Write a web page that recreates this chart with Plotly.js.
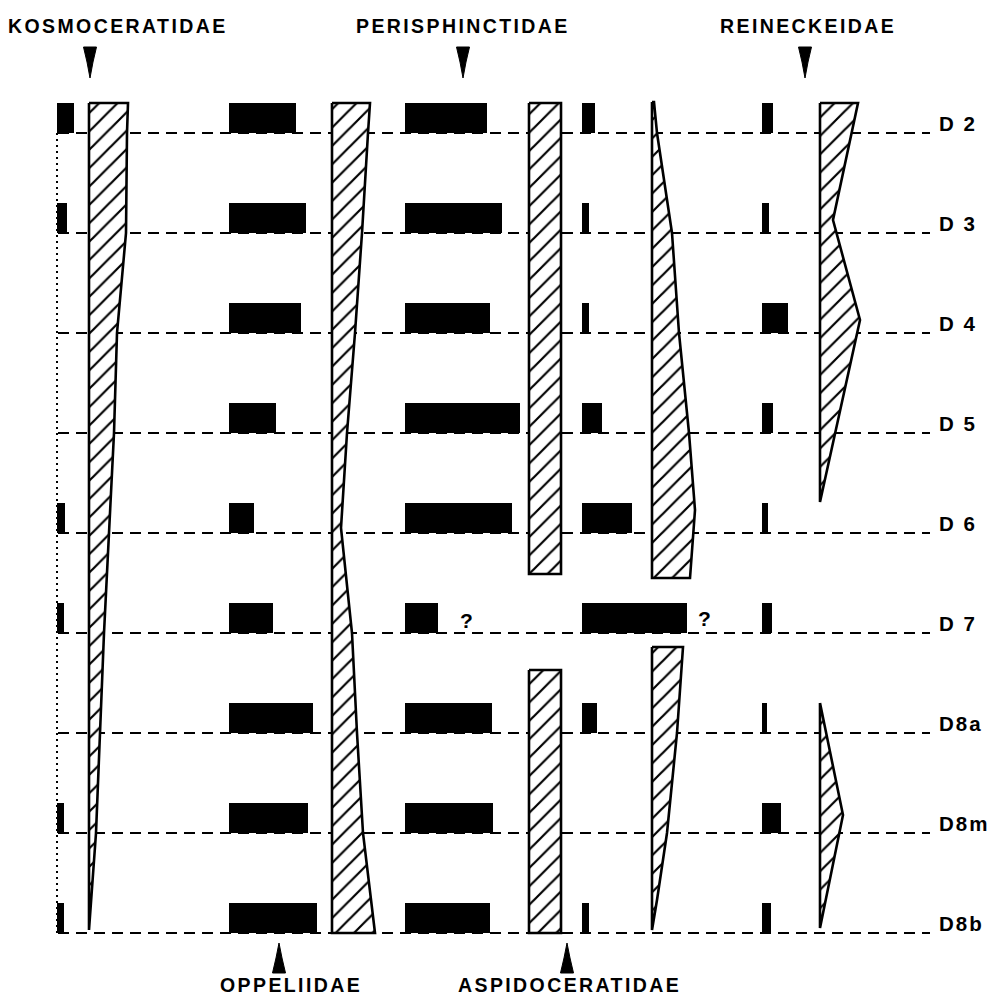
<!DOCTYPE html>
<html><head><meta charset="utf-8">
<script src="https://cdn.plot.ly/plotly-3.0.1.min.js"></script>
<style>html,body{margin:0;padding:0;background:#fff}#chart{width:1004px;height:1003px}</style>
</head><body><div id="chart"></div>
<script>
// ---- data ----
const levels = ['D 2','D 3','D 4','D 5','D 6','D 7','D8a','D8m','D8b'];
const topFamilies = ['KOSMOCERATIDAE','PERISPHINCTIDAE','REINECKEIDAE'];
const bottomFamilies = ['OPPELIIDAE','ASPIDOCERATIDAE'];

// black bars (abundance at each level; 0 = absent)
const kosmoBars  = [17, 10, 0, 0, 8, 7, 0, 7, 7];
const oppelBars  = [67, 77, 72, 47, 25, 44, 84, 79, 88];
const perisBars  = [82, 97, 85, 115, 107, 33, 87, 88, 85];
const aspidoBars = [13, 7, 7, 20, 50, 105, 15, 0, 7];
const reineBars  = [11, 7, 26, 11, 6, 10, 5, 19, 9];
// uncertain occurrences ("?")
const perisQuery  = [5];
const aspidoQuery = [5];

// hatched profiles: depth (in level units) and width
const kosmoDepth  = [-0.3, 0, 1, 2, 3, 4, 5, 6, 7, 7.97];
const kosmoWidth  = [39, 38, 37, 28, 25, 20, 15, 11, 7, 0];
const oppelDepth  = [-0.3, 0, 1, 2, 3, 3.95, 5, 6, 7, 8];
const oppelWidth  = [38, 36, 30, 23, 15, 9, 20, 25, 31, 43];
const perisDepthA = [-0.3, 4.41];
const perisWidthA = [32, 32];
const perisDepthB = [5.37, 8];
const perisWidthB = [32, 32];
const aspidoDepthA = [-0.31, 0, 1, 2, 3, 3.77, 4.45];
const aspidoWidthA = [2, 5, 20, 27, 37, 43, 38];
const aspidoDepthB = [5.14, 6, 7, 7.67, 7.97];
const aspidoWidthB = [31, 25, 15, 5, 0];
const reineDepthA = [-0.3, 0.87, 1.87, 3.69];
const reineWidthA = [38, 13, 40, 0];
const reineDepthB = [5.7, 6.82, 7.95];
const reineWidthB = [0, 23, 0];

// ---- layout constants ----
const barStart   = {kosmo: 57, oppel: 229, peris: 405, aspido: 582, reine: 762};
const hatchStart = {kosmo: 89, oppel: 332, peris: 529, aspido: 652, reine: 820};
const lineFrom = 58, lineTo = 930;
const pxY = p => (p - 133) / 100;   // page pixel row -> level units

const traces = [];
// dashed level lines
const lx = [], ly = [];
levels.forEach((l, i) => { lx.push(lineFrom, lineTo, null); ly.push(i, i, null); });
traces.push({type:'scatter', mode:'lines', x:lx, y:ly, hoverinfo:'skip',
  line:{color:'#000', width:2, dash:'11px,7px'}});
// dotted vertical line of first column
traces.push({type:'scatter', mode:'lines', x:[barStart.kosmo, barStart.kosmo], y:[0, levels.length-1],
  hoverinfo:'skip', line:{color:'#000', width:2, dash:'2px,4px'}});

// hatched profiles
function hatch(base, depth, width) {
  const x = [base], y = [depth[0]];
  depth.forEach((d, i) => { x.push(base + width[i]); y.push(d); });
  x.push(base, base); y.push(depth[depth.length-1], depth[0]);
  traces.push({type:'scatter', mode:'lines', x, y, fill:'toself', fillcolor:'#fff',
    fillpattern:{shape:'/', fgcolor:'#000', bgcolor:'#fff', size:13, solidity:0.17},
    line:{color:'#000', width:2.6}, hoverinfo:'skip'});
}
hatch(hatchStart.kosmo, kosmoDepth, kosmoWidth);
hatch(hatchStart.oppel, oppelDepth, oppelWidth);
hatch(hatchStart.peris, perisDepthA, perisWidthA);
hatch(hatchStart.peris, perisDepthB, perisWidthB);
hatch(hatchStart.aspido, aspidoDepthA, aspidoWidthA);
hatch(hatchStart.aspido, aspidoDepthB, aspidoWidthB);
hatch(hatchStart.reine, reineDepthA, reineWidthA);
hatch(hatchStart.reine, reineDepthB, reineWidthB);

// black bars
function bars(base, vals) {
  traces.push({type:'bar', orientation:'h', base:base, x:vals,
    y: vals.map((v, i) => i - 0.15), width:0.30,
    marker:{color:'#000', line:{width:0}}, hoverinfo:'skip'});
}
bars(barStart.kosmo, kosmoBars);
bars(barStart.oppel, oppelBars);
bars(barStart.peris, perisBars);
bars(barStart.aspido, aspidoBars);
bars(barStart.reine, reineBars);

const font = {family:'Liberation Sans, Arial, sans-serif', color:'#000'};
const spaced = (t, ls) => `<span style="letter-spacing:${ls}px">${t}</span>`;
const annotations = [];
// level labels
levels.forEach((l, i) => annotations.push({x:937, y:i, xref:'x', yref:'y', xanchor:'left', yanchor:'bottom',
  yshift:-4, showarrow:false, text:'<b>'+spaced(l, 2)+'</b>', font:Object.assign({size:20.5}, font)}));
// question marks
perisQuery.forEach(i => annotations.push({x:barStart.peris + perisBars[i] + 28, y:i - 0.13, xref:'x', yref:'y',
  showarrow:false, text:'<b>?</b>', font:Object.assign({size:21}, font)}));
aspidoQuery.forEach(i => annotations.push({x:barStart.aspido + aspidoBars[i] + 17, y:i - 0.15, xref:'x', yref:'y',
  showarrow:false, text:'<b>?</b>', font:Object.assign({size:21}, font)}));

// family headings and pointers
const topX = [118, 463, 808], topArrow = [90, 463, 805];
const botX = [291, 569], botArrow = [279, 567];
const shapes = [];
topFamilies.forEach((f, k) => {
  annotations.push({x:topX[k], y:pxY(26), xref:'x', yref:'y', showarrow:false,
    text:'<b>'+spaced(f, 2.4)+'</b>', font:Object.assign({size:19.5}, font)});
  const a = topArrow[k];
  shapes.push({type:'path', xref:'x', yref:'y', fillcolor:'#000', line:{color:'#000', width:1},
    path:`M${a-6.5},${pxY(47)} L${a+6.5},${pxY(47)} L${a+3},${pxY(62)} L${a},${pxY(78)} L${a-3},${pxY(62)} Z`});
});
bottomFamilies.forEach((f, k) => {
  annotations.push({x:botX[k], y:pxY(985), xref:'x', yref:'y', showarrow:false,
    text:'<b>'+spaced(f, 2.4)+'</b>', font:Object.assign({size:19.5}, font)});
  const a = botArrow[k];
  shapes.push({type:'path', xref:'x', yref:'y', fillcolor:'#000', line:{color:'#000', width:1},
    path:`M${a-6.5},${pxY(973)} L${a+6.5},${pxY(973)} L${a+3},${pxY(958)} L${a},${pxY(943)} L${a-3},${pxY(958)} Z`});
});

const layout = {
  width:1004, height:1003, margin:{l:0, r:0, t:0, b:0},
  paper_bgcolor:'#fff', plot_bgcolor:'#fff', showlegend:false, barmode:'overlay',
  xaxis:{range:[0,1004], visible:false, fixedrange:true},
  yaxis:{range:[pxY(1003), pxY(0)], visible:false, fixedrange:true},
  annotations, shapes
};
Plotly.newPlot('chart', traces, layout, {displayModeBar:false, staticPlot:true});
</script>
</body></html>
